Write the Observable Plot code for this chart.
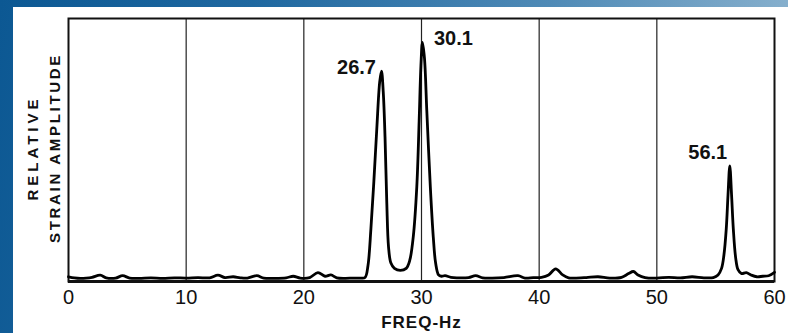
<!DOCTYPE html>
<html>
<head>
<meta charset="utf-8">
<script src="https://cdn.jsdelivr.net/npm/d3@7"></script>
<script src="https://cdn.jsdelivr.net/npm/@observablehq/plot@0.6"></script>
<style>
  html, body { margin: 0; padding: 0; }
  body {
    width: 788px; height: 333px; overflow: hidden; position: relative;
    background: linear-gradient(100deg, #0c5893 0%, #1f68a0 30%, #4f8ab6 65%, #93b8d2 100%);
  }
  #panel {
    position: absolute; left: 13px; top: 7px; width: 775px; height: 326px;
    background: #fff; overflow: hidden;
  }
  #panel svg { display: block; }
</style>
</head>
<body>
<div id="panel"></div>
<script>
// Frequency (Hz) of the sampled curve points
const freq = [
  0, 0.5, 1, 1.5, 2, 2.7, 3.2, 4, 4.6, 5.2, 6, 7, 8, 9, 10, 11, 12, 12.7, 13.3, 14,
  14.6, 15.2, 16, 16.6, 17.5, 18.5, 19.1, 19.7, 20.5, 21.2, 21.8, 22.3, 22.8, 23.5, 24.2, 24.8,
  25.2, 25.45, 25.7, 25.95, 26.2, 26.45, 26.6, 26.75, 26.9, 27.05, 27.2, 27.4, 27.7, 28.2, 28.7,
  29.0, 29.3, 29.6, 29.8, 29.95, 30.08, 30.25, 30.45, 30.75, 31.0, 31.2, 31.45, 31.7, 32.0,
  32.5, 33, 34, 34.6, 35.2, 36, 37, 38.2, 38.8, 39.5, 40.2, 40.8, 41.4, 42, 42.5, 43, 44, 45,
  46, 47, 47.6, 48, 48.4, 49, 50, 51, 52, 53, 54, 54.8, 55.2, 55.5, 55.7, 55.9, 56.05, 56.2,
  56.35, 56.5, 56.7, 56.9, 57.2, 57.6, 58.0, 58.5, 59.0, 59.5, 60
];
// Relative strain amplitude at each frequency (0 = axis, 1 = top of frame)
const amplitude = [
  0.018, 0.014, 0.012, 0.013, 0.016, 0.024, 0.014, 0.013, 0.022, 0.013, 0.012, 0.014, 0.012, 0.014, 0.013, 0.015, 0.014, 0.024, 0.015, 0.018,
  0.014, 0.013, 0.022, 0.013, 0.012, 0.014, 0.02, 0.013, 0.015, 0.034, 0.02, 0.025, 0.014, 0.012, 0.013, 0.013,
  0.015, 0.06, 0.2, 0.38, 0.58, 0.76, 0.80, 0.72, 0.55, 0.3, 0.13, 0.07, 0.05, 0.042, 0.05,
  0.08, 0.17, 0.36, 0.61, 0.82, 0.909, 0.85, 0.65, 0.36, 0.17, 0.07, 0.025, 0.02, 0.022,
  0.016, 0.014, 0.015, 0.022, 0.014, 0.013, 0.015, 0.022, 0.013, 0.015, 0.016, 0.025, 0.048, 0.025, 0.014, 0.013, 0.015, 0.018,
  0.013, 0.016, 0.03, 0.038, 0.025, 0.015, 0.013, 0.016, 0.014, 0.018, 0.014, 0.015, 0.025, 0.05, 0.1, 0.2, 0.33, 0.44,
  0.33, 0.2, 0.09, 0.045, 0.03, 0.034, 0.025, 0.018, 0.02, 0.022, 0.035
];
// Labelled peaks
const peakFreq = [26.6, 30.08, 56.2];
const peakAmp = [0.80, 0.909, 0.44];
const peakLabel = ["26.7", "30.1", "56.1"];
// Axis ticks and grid
const xTicks = [0, 10, 20, 30, 40, 50, 60];
const gridX = [10, 20, 30, 40, 50];
const xLabel = "FREQ-Hz";
const yLabel1 = "RELATIVE";
const yLabel2 = "STRAIN AMPLITUDE";

const curve = freq.map((f, i) => ({f, a: amplitude[i]}));
const peaks = peakFreq.map((f, i) => ({f, a: peakAmp[i], label: peakLabel[i]}));

const FONT = "'Liberation Sans', Arial, sans-serif";

const chart = Plot.plot({
  width: 775,
  height: 326,
  marginLeft: 55,
  marginRight: 14,
  marginTop: 11,
  marginBottom: 52,
  style: {background: "#fff", color: "#111", fontFamily: FONT},
  x: {domain: [0, 60]},
  y: {domain: [0, 1], axis: null},
  marks: [
    Plot.ruleX(gridX, {stroke: "#222", strokeWidth: 1.2}),
    Plot.frame({stroke: "#111", strokeWidth: 2}),
    Plot.ruleY([0], {stroke: "#111", strokeWidth: 3}),
    Plot.line(curve, {x: "f", y: "a", stroke: "#000", strokeWidth: 2.8, curve: "catmull-rom"}),
    Plot.axisX(xTicks, {tickSize: 0, tickPadding: 8, fontSize: 20, label: null, fill: "#111"}),
    Plot.text([xLabel], {frameAnchor: "bottom", dy: 41, fontSize: 17, fontWeight: "bold", fill: "#111", lineAnchor: "middle"}),
    Plot.text([yLabel1], {frameAnchor: "left", textAnchor: "middle", dx: -35, dy: -2, rotate: -90, fontSize: 15, fontWeight: "bold", fill: "#111", lineAnchor: "middle"}),
    Plot.text([yLabel2], {frameAnchor: "left", textAnchor: "middle", dx: -13, dy: -2, rotate: -90, fontSize: 15, fontWeight: "bold", fill: "#111", lineAnchor: "middle"}),
    Plot.text(peaks.slice(0, 1), {x: "f", y: "a", text: "label", dx: -25, dy: -4, fontSize: 20, fontWeight: "bold", fill: "#111"}),
    Plot.text(peaks.slice(1, 2), {x: "f", y: "a", text: "label", dx: 31, dy: -4, fontSize: 20, fontWeight: "bold", fill: "#111"}),
    Plot.text(peaks.slice(2, 3), {x: "f", y: "a", text: "label", dx: -22, dy: -13, fontSize: 20, fontWeight: "bold", fill: "#111"})
  ]
});
document.getElementById("panel").appendChild(chart);
// letter spacing for the rotated axis title lines
d3.select(chart).selectAll("text").filter(function() {
  return this.textContent === yLabel1;
}).style("letter-spacing", "4px");
d3.select(chart).selectAll("text").filter(function() {
  return this.textContent === yLabel2;
}).style("letter-spacing", "2.7px");
d3.select(chart).selectAll("text").filter(function() {
  return this.textContent === xLabel;
}).style("letter-spacing", "1px");
</script>
</body>
</html>
